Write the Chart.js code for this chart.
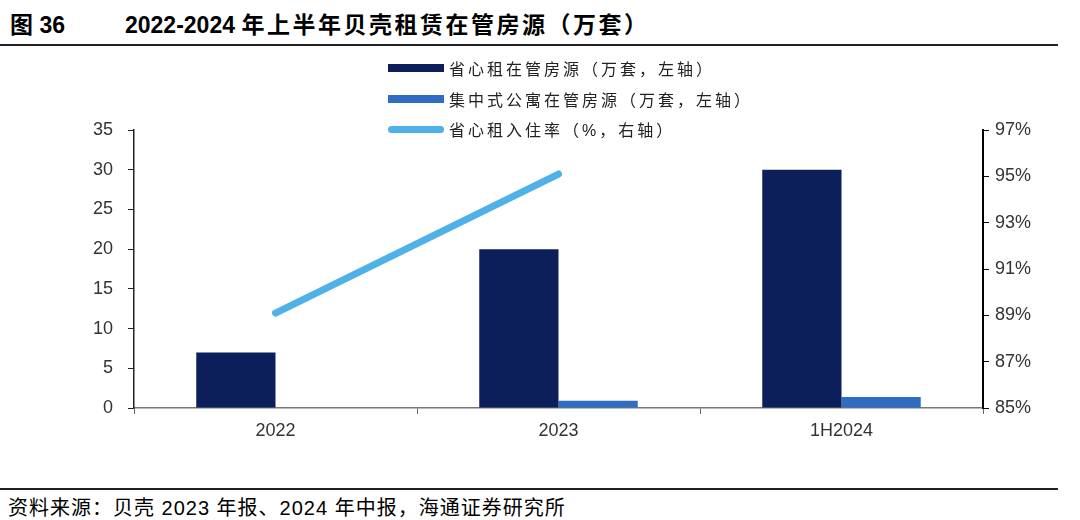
<!DOCTYPE html>
<html>
<head>
<meta charset="utf-8">
<script src="https://cdn.jsdelivr.net/npm/chart.js@4.4.1/dist/chart.umd.min.js"></script>
<style>
  body { margin: 0; width: 1080px; height: 520px; background: #fff; position: relative; overflow: hidden;
         font-family: "Liberation Sans", Arial, "Noto Sans CJK SC", sans-serif; }
  .title { position: absolute; left: 10px; top: 6px; font-size: 23px; font-weight: bold; color: #000; white-space: nowrap; }
  .title .name { position: absolute; left: 115px; top: 0; }
  .title .cjk { letter-spacing: 2.5px; }
  .hr { position: absolute; left: 0; width: 1058px; height: 2px; background: #222; }
  .src { position: absolute; left: 8px; top: 492px; font-size: 20px; letter-spacing: 1px; color: #000; white-space: nowrap; }
  #legend { position: absolute; left: 388px; top: 53px; font-size: 16px; letter-spacing: 3px; color: #222; }
  #legend .row { height: 30.5px; display: flex; align-items: center; }
  #legend .sw { width: 56px; margin-right: 5px; }
  #wrap { position: absolute; left: 0; top: 0; width: 1080px; height: 520px; }
</style>
</head>
<body>
<div class="title">图 36<span class="name">2022-2024 <span class="cjk">年上半年贝壳租赁在管房源（万套）</span></span></div>
<div class="hr" style="top:44px"></div>
<div class="hr" style="top:488px"></div>
<div class="src">资料来源：贝壳 2023 年报、2024 年中报，海通证券研究所</div>
<div id="wrap"><canvas id="c" width="1080" height="520"></canvas></div>
<div id="legend"></div>
<script>
const categories = ["2022", "2023", "1H2024"];
const shengxinzu = [7, 20, 30];
const jizhongshi = [null, 0.9, 1.4];
const ruzhulv = [89.1, 95.1, null];
const leftTicks = [0, 5, 10, 15, 20, 25, 30, 35];
const rightTicks = [85, 87, 89, 91, 93, 95, 97];

const names = ["省心租在管房源（万套，左轴）", "集中式公寓在管房源（万套，左轴）", "省心租入住率（%，右轴）"];
const colors = ["#0c1f5a", "#2f6cc2", "#4fb1e8"];

const legend = document.getElementById("legend");
names.forEach((n, i) => {
    const row = document.createElement("div");
    row.className = "row";
    const sw = document.createElement("div");
    sw.className = "sw";
    sw.style.height = i == 2 ? "7px" : "8px";
    sw.style.background = colors[i];
    if (i == 2) sw.style.borderRadius = "4px";
    row.appendChild(sw);
    const t = document.createElement("span");
    t.textContent = n;
    row.appendChild(t);
    legend.appendChild(row);
});

const tickFont = { family: "'Liberation Sans', Arial", size: 18 };

new Chart(document.getElementById("c"), {
    data: {
        labels: categories,
        datasets: [
            { type: "line", label: names[2], data: ruzhulv, yAxisID: "y1",
              borderColor: colors[2], borderWidth: 7, pointRadius: 0, borderCapStyle: "round", order: 0 },
            { type: "bar", label: names[0], data: shengxinzu, yAxisID: "y",
              backgroundColor: colors[0], barPercentage: 1, categoryPercentage: 0.56, order: 1 },
            { type: "bar", label: names[1], data: jizhongshi, yAxisID: "y",
              backgroundColor: colors[1], barPercentage: 1, categoryPercentage: 0.56, order: 1 },
        ]
    },
    options: {
        responsive: false,
        animation: false,
        devicePixelRatio: 1,
        layout: { padding: { top: 130, left: 0, right: 0, bottom: 0 } },
        plugins: { legend: { display: false }, tooltip: { enabled: false } },
        scales: {
            x: {
                grid: { offset: true, drawOnChartArea: false, tickLength: 6, color: "#666" },
                border: { color: "#777", width: 1.5 },
                ticks: { color: "#333", font: tickFont, padding: 6 },
                afterFit: (s) => { s.height = 112; }
            },
            y: {
                position: "left", min: 0, max: 35,
                afterBuildTicks: (s) => { s.ticks = leftTicks.map(v => ({ value: v })); },
                grid: { drawOnChartArea: false, tickLength: 6, color: "#222" },
                border: { color: "#222", width: 1.5 },
                ticks: { color: "#333", font: tickFont, padding: 15 },
                afterFit: (s) => { s.width = 134; }
            },
            y1: {
                position: "right", min: 85, max: 97,
                afterBuildTicks: (s) => { s.ticks = rightTicks.map(v => ({ value: v })); },
                grid: { drawOnChartArea: false, tickLength: 6, color: "#000" },
                border: { color: "#000", width: 2 },
                ticks: { color: "#333", font: tickFont, padding: 6, callback: (v) => v + "%" },
                afterFit: (s) => { s.width = 97; }
            }
        }
    }
});
</script>
</body>
</html>
